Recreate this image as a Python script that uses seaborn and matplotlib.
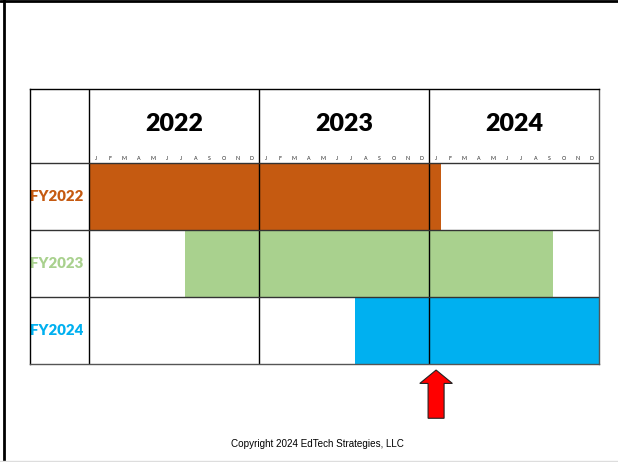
import numpy as np
import pandas as pd
import matplotlib.pyplot as plt
import seaborn as sns
from matplotlib.patches import FancyArrow
from matplotlib.lines import Line2D

# data (months counted from Jan 2022)
programs = ['FY2022', 'FY2023', 'FY2024']
start_month = [0, 6.75, 18.75]
end_month = [24.85, 32.75, 36]
bar_colors = ['#C55A11', '#A9D18E', '#00B0F0']
years = ['2022', '2023', '2024']
months = ['J', 'F', 'M', 'A', 'M', 'J', 'J', 'A', 'S', 'O', 'N', 'D']
copyright_text = 'Copyright 2024 EdTech Strategies, LLC'

df = pd.DataFrame({'program': programs, 'start': start_month, 'end': end_month})
df['length'] = df['end'] - df['start']

sns.set_theme(style='white')
plt.rcParams['font.family'] = ['Lato', 'DejaVu Sans']

fig = plt.figure(figsize=(6.18, 4.62), dpi=100)
ax = fig.add_axes([30 / 618, 98 / 462, 569 / 618, 275 / 462])

label_w = 59 / (170 / 12)   # label column width in months
header_h = 74 / 67          # header height in row units

# bars
for i, row in df.iterrows():
    ax.barh(i + 0.5, row['length'], left=row['start'], height=1.0,
            color=bar_colors[i], edgecolor='none', zorder=1)

# grid lines of the table
for x in [0, 12, 24]:
    ax.plot([x, x], [-header_h, 3], color='black', lw=1, zorder=3)
for y in [0, 1, 2]:
    ax.plot([-label_w, 36], [y, y], color='#333333', lw=1, zorder=3)

# header: years and month letters
for k, yr in enumerate(years):
    ax.text(12 * k + 6, -0.58, yr, ha='center', va='center',
            fontsize=18, fontweight='heavy', color='black')
    for m, letter in enumerate(months):
        ax.text(12 * k + m + 0.5, -0.07, letter, ha='center', va='center',
                fontsize=3.8, color='#222222')

# program labels
for i, p in enumerate(programs):
    ax.text(-2.25, i + 0.5, p, ha='center', va='center',
            fontsize=10.8, fontweight='heavy', color=bar_colors[i])

ax.set_xlim(-label_w, 36)
ax.set_ylim(3, -header_h)
ax.set_xticks([])
ax.set_yticks([])
for side in ['top', 'left']:
    ax.spines[side].set_color('black')
for side in ['bottom', 'right']:
    ax.spines[side].set_color('#555555')
for s in ax.spines.values():
    s.set_linewidth(1)
    s.set_zorder(4)

# red "today" arrow under the table
arrow = FancyArrow(24.5, 3.81, 0, -0.72, width=1.13, head_width=2.3,
                   head_length=0.2, length_includes_head=True,
                   facecolor='#FF0000', edgecolor='#222222', lw=0.8,
                   clip_on=False, zorder=5)
ax.add_patch(arrow)

fig.text(0.513, 1 - 444 / 462, copyright_text, ha='center', va='center',
         fontsize=7.1, color='black', family=['Liberation Sans', 'DejaVu Sans'])

# slide frame
fig.add_artist(Line2D([4 / 618, 4 / 618], [0, 1], color='black', lw=2))
fig.add_artist(Line2D([0, 1], [1 - 1 / 462, 1 - 1 / 462], color='black', lw=2))
fig.add_artist(Line2D([0, 1], [1.5 / 462, 1.5 / 462], color='#DDDDDD', lw=1))

fig.savefig('out.png', dpi=100)
